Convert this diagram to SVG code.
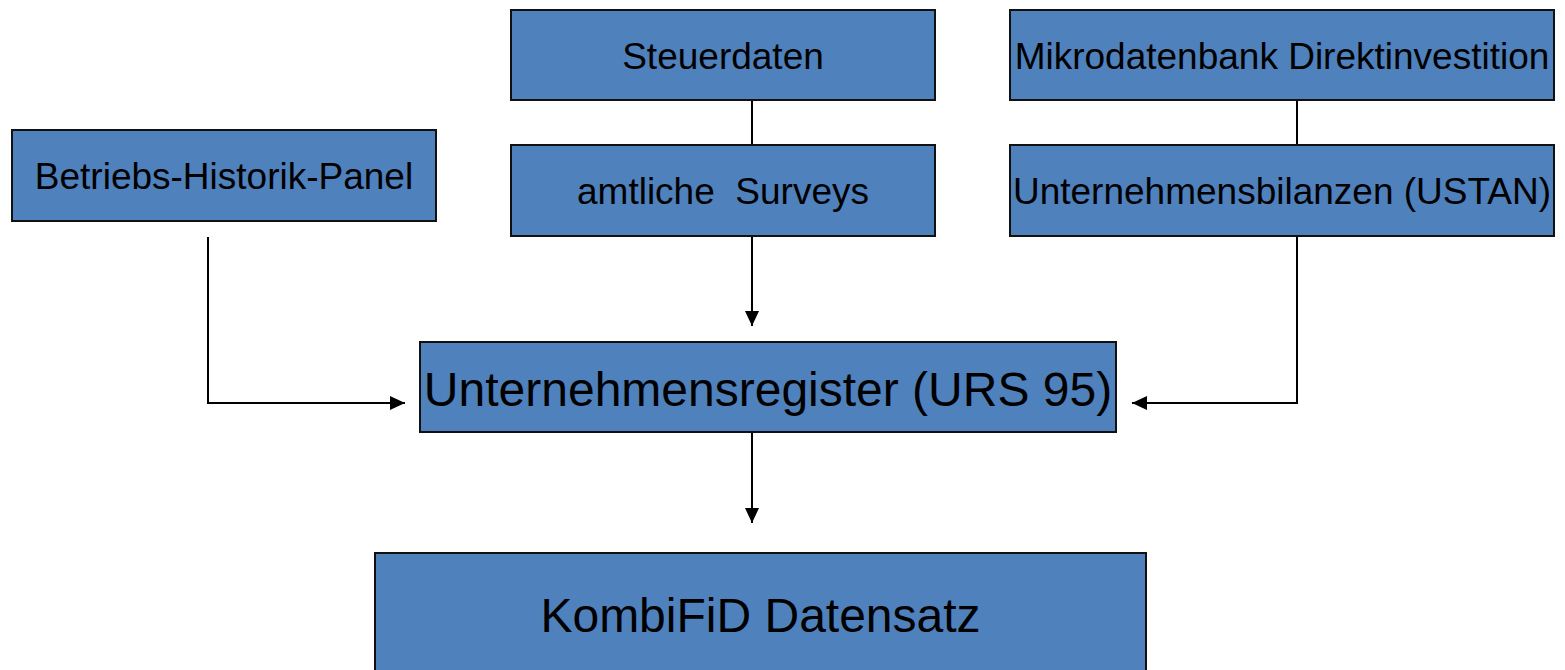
<svg xmlns="http://www.w3.org/2000/svg" width="1565" height="670" viewBox="0 0 1565 670">
<style>
.box{fill:#4F81BD;stroke:#111;stroke-width:2}
.t{font-family:"Liberation Sans",Arial,sans-serif;fill:#000;text-anchor:middle;white-space:pre}
.s{font-size:37px}
.l{font-size:48px}
.c{fill:none;stroke:#000;stroke-width:2}
</style>
<defs>
<marker id="ah" markerUnits="userSpaceOnUse" markerWidth="16" markerHeight="16" refX="15" refY="7" orient="auto">
<path d="M0,0 L15,7 L0,14 Z" fill="#000"/>
</marker>
</defs>
<rect width="1565" height="670" fill="#fff"/>
<g id="connectors">
<line class="c" x1="752" y1="100" x2="752" y2="145"/>
<line class="c" x1="1297" y1="100" x2="1297" y2="145"/>
<line class="c" x1="752" y1="236" x2="752" y2="326" marker-end="url(#ah)"/>
<polyline class="c" points="208,237 208,403 405,403" marker-end="url(#ah)"/>
<polyline class="c" points="1297,236 1297,403 1132,403" marker-end="url(#ah)"/>
<line class="c" x1="752" y1="432" x2="752" y2="523" marker-end="url(#ah)"/>
</g>
<g id="steuerdaten">
<rect class="box" x="511" y="10" width="424" height="90"/>
<text class="t s" x="723" y="69">Steuerdaten</text>
</g>
<g id="surveys">
<rect class="box" x="511" y="145" width="424" height="91"/>
<text class="t s" x="723" y="204" xml:space="preserve">amtliche  Surveys</text>
</g>
<g id="mikrodatenbank">
<rect class="box" x="1010" y="10" width="544" height="90"/>
<text class="t s" x="1282" y="69">Mikrodatenbank Direktinvestition</text>
</g>
<g id="ustan">
<rect class="box" x="1010" y="145" width="544" height="91"/>
<text class="t s" x="1282" y="204">Unternehmensbilanzen (USTAN)</text>
</g>
<g id="bhp">
<rect class="box" x="12" y="130" width="424" height="91"/>
<text class="t s" x="224" y="189">Betriebs-Historik-Panel</text>
</g>
<g id="urs">
<rect class="box" x="420" y="342" width="696" height="90"/>
<text class="t l" x="768" y="406">Unternehmensregister (URS 95)</text>
</g>
<g id="kombifid">
<rect class="box" x="375" y="553" width="771" height="130"/>
<text class="t l" x="760.5" y="632">KombiFiD Datensatz</text>
</g>
</svg>
